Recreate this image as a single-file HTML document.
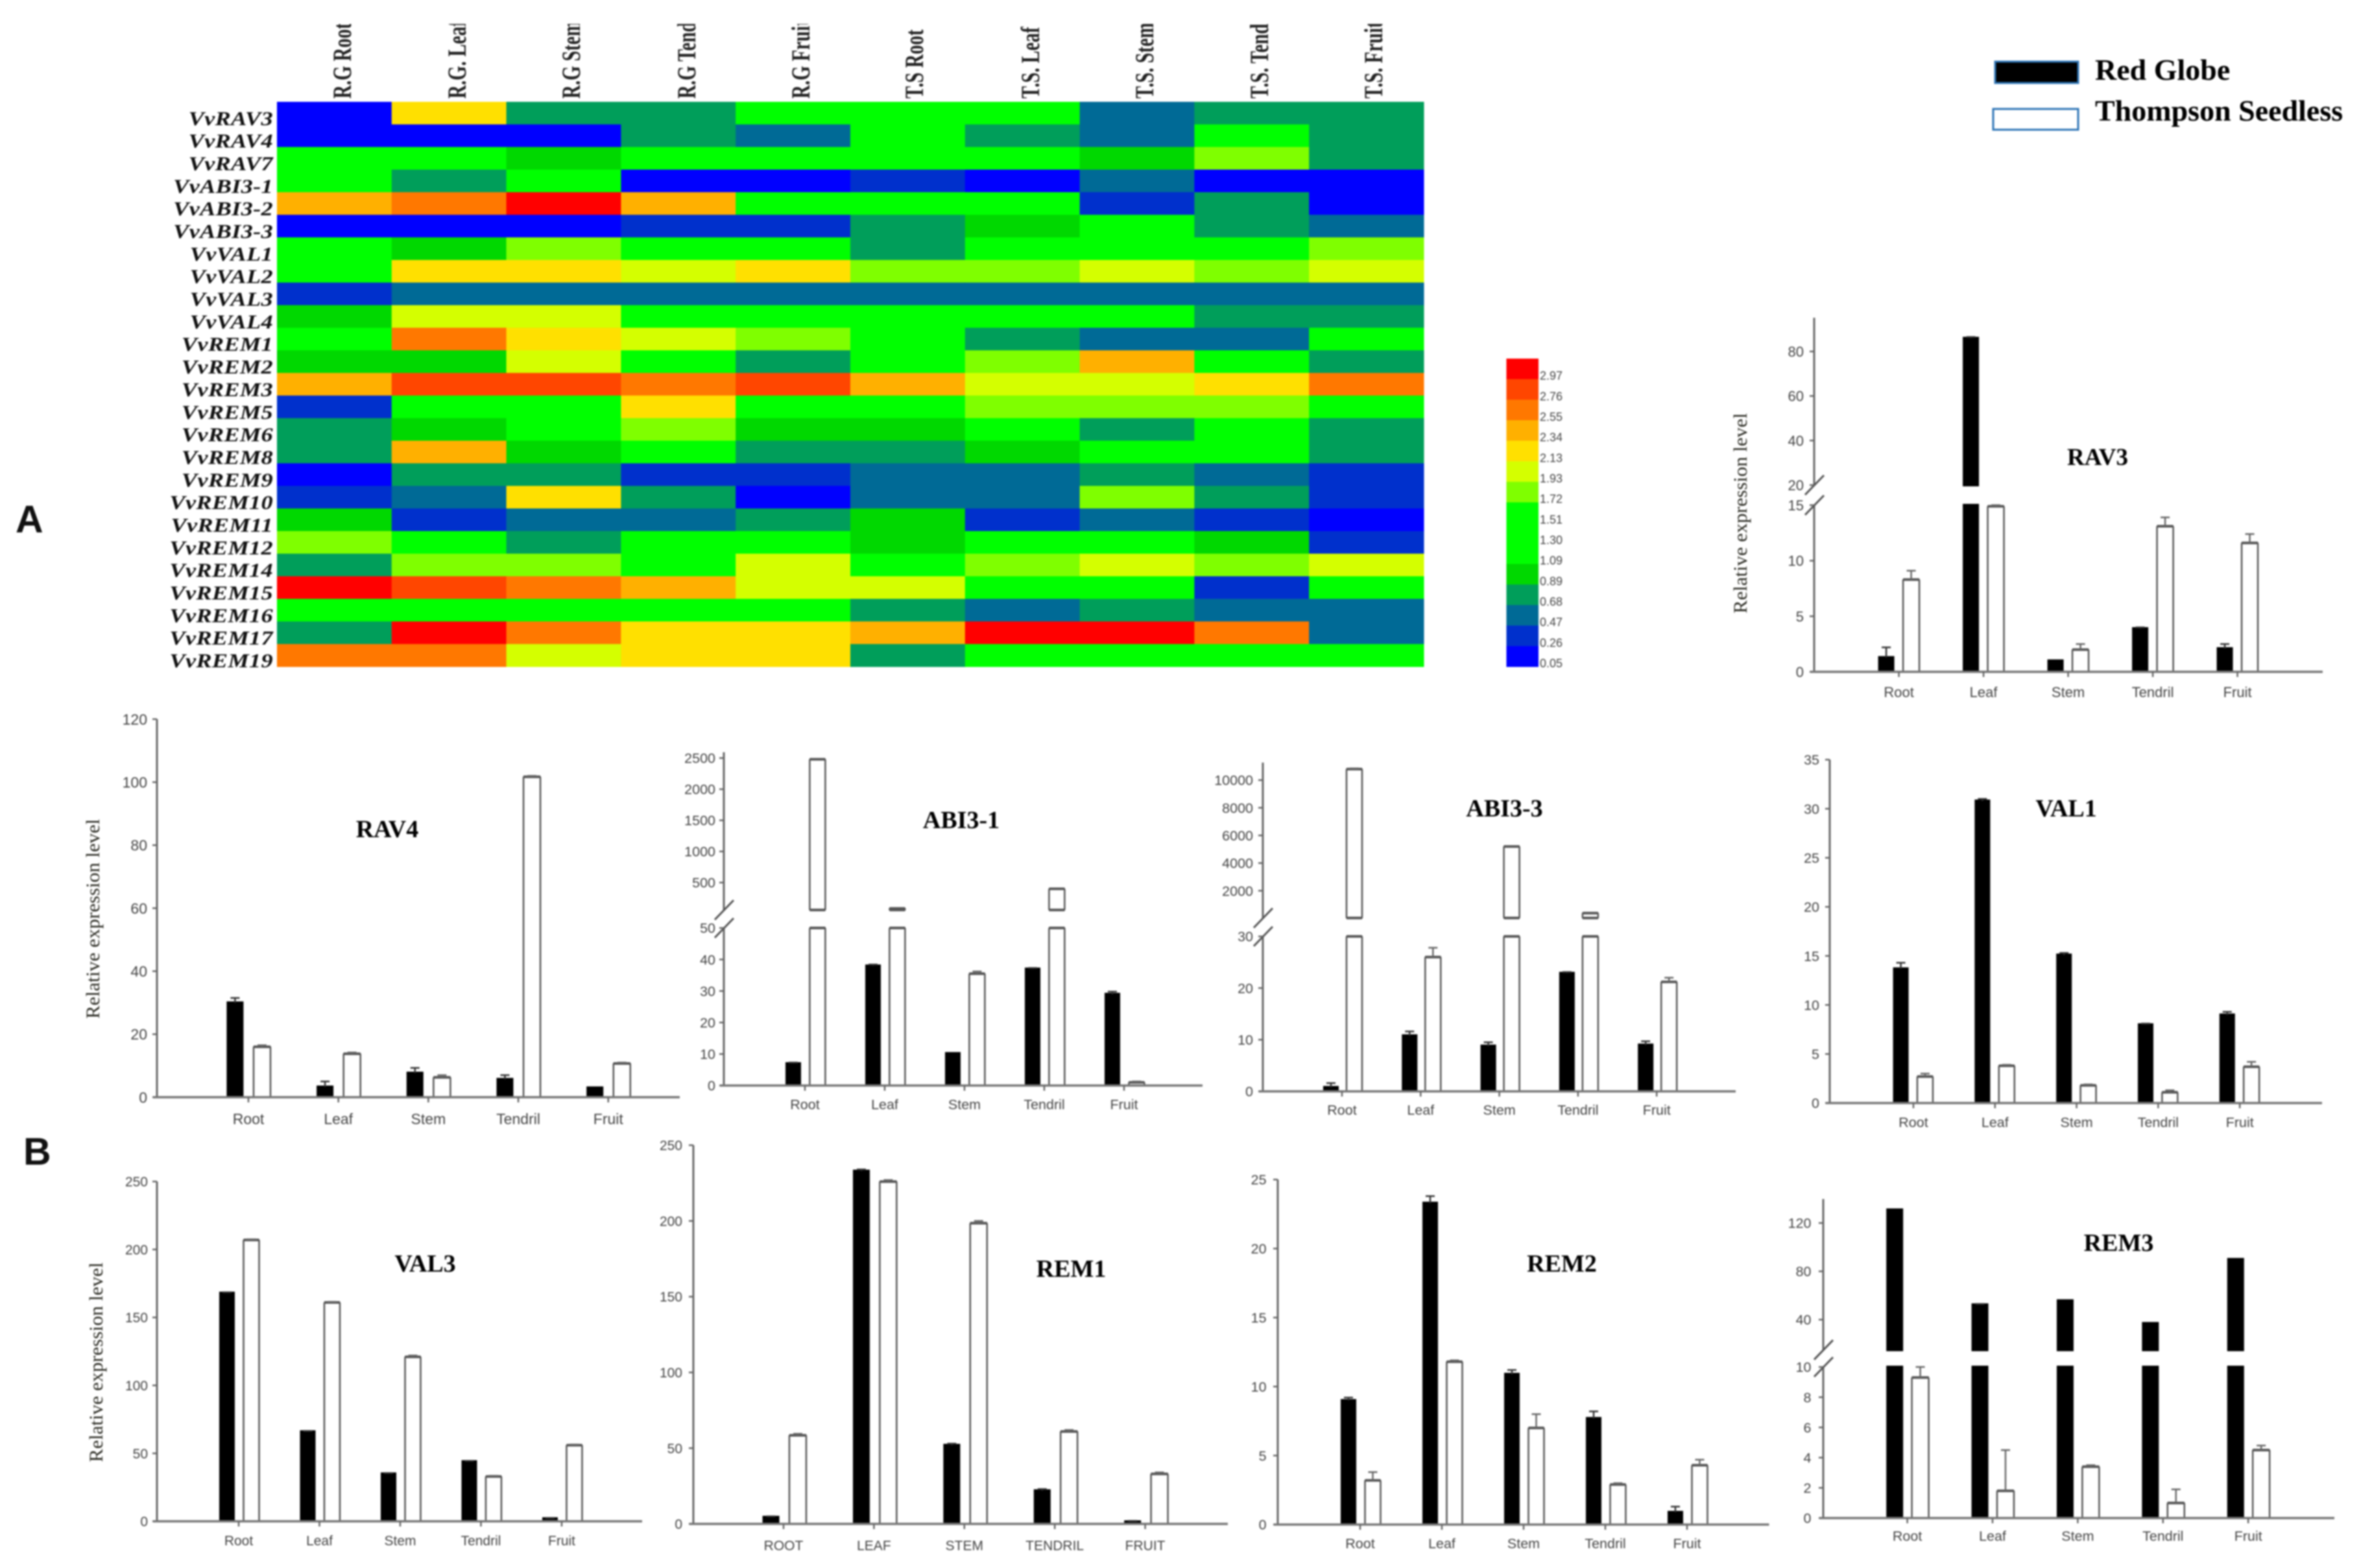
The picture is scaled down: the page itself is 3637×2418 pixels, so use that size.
<!DOCTYPE html>
<html lang="en">
<head>
<meta charset="utf-8">
<title>Expression heatmap and relative expression bar charts</title>
<style>
html,body{margin:0;padding:0;background:#fff;width:3637px;height:2418px;overflow:hidden}
svg{display:block;filter:blur(1.2px)}
.tick{font-family:"Liberation Sans",sans-serif;fill:#444}
.serif{font-family:"Liberation Serif",serif}
</style>
</head>
<body>
<svg id="figure" xmlns="http://www.w3.org/2000/svg" width="3637" height="2418" viewBox="0 0 3637 2418">
  <rect x="0" y="0" width="3637" height="2418" fill="#ffffff"/>
  <defs><clipPath id="colClip"><rect x="400" y="37" width="1800" height="120"/></clipPath></defs>
  <text x="24" y="821" font-family="Liberation Sans, sans-serif" font-weight="bold" font-size="59" fill="#111">A</text>
  <text x="36" y="1796" font-family="Liberation Sans, sans-serif" font-weight="bold" font-size="59" fill="#111">B</text>
  <g id="heatmap"></g>
  <g id="colorbar"></g>
  <g>
    <rect x="3076" y="95" width="128" height="33" fill="#000" stroke="#2e75b6" stroke-width="3"/>
    <text class="serif" x="3230" y="123" font-size="46" font-weight="bold" fill="#000">Red Globe</text>
    <rect x="3073" y="168" width="131" height="32" fill="#fff" stroke="#2e75b6" stroke-width="3"/>
    <text class="serif" x="3230" y="186" font-size="46" font-weight="bold" fill="#000">Thompson Seedless</text>
  </g>
  <g id="charts"></g>
</svg>
<script>
/* ---------- heatmap data ---------- */
const heatmapColumns = ['R.G Root','R.G. Leaf','R.G Stem','R.G Tendril','R.G Fruit','T.S Root','T.S. Leaf','T.S. Stem','T.S. Tendril','T.S. Fruit'];
const heatmapRows = ['VvRAV3','VvRAV4','VvRAV7','VvABI3-1','VvABI3-2','VvABI3-3','VvVAL1','VvVAL2','VvVAL3','VvVAL4','VvREM1','VvREM2','VvREM3','VvREM5','VvREM6','VvREM8','VvREM9','VvREM10','VvREM11','VvREM12','VvREM14','VvREM15','VvREM16','VvREM17','VvREM19'];
const heatmapValues = [
 [0.05,2.13,0.68,0.68,1.30,1.30,1.30,0.47,0.68,0.68],
 [0.05,0.05,0.05,0.68,0.47,1.30,0.68,0.47,1.30,0.68],
 [1.30,1.30,0.89,1.30,1.30,1.30,1.30,0.89,1.72,0.68],
 [1.30,0.68,1.30,0.05,0.05,0.26,0.05,0.47,0.05,0.05],
 [2.34,2.55,2.97,2.34,1.30,1.30,1.30,0.26,0.68,0.05],
 [0.05,0.05,0.05,0.26,0.26,0.68,0.89,1.30,0.68,0.47],
 [1.30,0.89,1.72,1.30,1.30,0.68,1.30,1.30,1.30,1.72],
 [1.30,2.13,2.13,1.93,2.13,1.72,1.72,1.93,1.72,1.93],
 [0.26,0.47,0.47,0.47,0.47,0.47,0.47,0.47,0.47,0.47],
 [0.89,1.93,1.93,1.30,1.30,1.30,1.30,1.30,0.68,0.68],
 [1.30,2.55,2.13,1.93,1.72,1.30,0.68,0.47,0.47,1.30],
 [0.89,0.89,1.93,1.30,0.68,1.30,1.72,2.34,1.30,0.68],
 [2.34,2.76,2.76,2.55,2.76,2.34,1.93,1.93,2.13,2.55],
 [0.26,1.30,1.30,2.13,1.30,1.30,1.72,1.72,1.72,1.30],
 [0.68,0.89,1.30,1.72,0.89,0.89,1.30,0.68,1.30,0.68],
 [0.68,2.34,0.89,1.30,0.68,0.68,0.89,1.30,1.30,0.68],
 [0.05,0.68,0.68,0.26,0.26,0.47,0.47,0.68,0.47,0.26],
 [0.26,0.47,2.13,0.68,0.05,0.47,0.47,1.72,0.68,0.26],
 [0.89,0.26,0.47,0.47,0.68,0.89,0.26,0.47,0.26,0.05],
 [1.72,1.30,0.68,1.30,1.30,0.89,1.30,1.30,0.89,0.26],
 [0.68,1.72,1.72,1.30,1.93,1.30,1.72,1.93,1.72,1.93],
 [2.97,2.76,2.55,2.34,1.93,1.93,1.30,1.30,0.26,1.30],
 [1.30,1.30,1.30,1.30,1.30,0.68,0.47,0.68,0.47,0.47],
 [0.68,2.97,2.55,2.13,2.13,2.34,2.97,2.97,2.55,0.47],
 [2.55,2.55,1.93,2.13,2.13,0.68,1.30,1.30,1.30,1.30]
];
const colorbarValues = [2.97,2.76,2.55,2.34,2.13,1.93,1.72,1.51,1.30,1.09,0.89,0.68,0.47,0.26,0.05];
const colorbarColors = ['#ff0000','#ff4600','#ff7800','#ffb000','#ffe000','#d4ff00','#7fff00','#00ff00','#00ff00','#00ff00','#00d800','#009e5a','#006a96','#0030cc','#0000ff'];

/* ---------- bar chart data ---------- */
const categories = ['Root','Leaf','Stem','Tendril','Fruit'];
const categoriesUpper = ['ROOT','LEAF','STEM','TENDRIL','FRUIT'];

const rav3RedGlobe = [1.3,86,1.0,3.9,2.1];
const rav3RedGlobeCap = [2.2,86.5,1.05,4.0,2.5];
const rav3Thompson = [8.3,14.9,2.0,13.1,11.6];
const rav3ThompsonCap = [9.1,15,2.5,13.9,12.4];
const rav3Ticks = [0,5,10,15];
const rav3UpperTicks = [20,40,60,80];

const rav4RedGlobe = [30,3.3,7.7,5.7,3];
const rav4RedGlobeCap = [31.5,5,9.3,7,3.2];
const rav4Thompson = [16,13.8,6.3,101.7,10.7];
const rav4ThompsonCap = [16.5,14.2,7,102,11];
const rav4Ticks = [0,20,40,60,80,100,120];

const abi31RedGlobe = [7,38,10.2,37,29];
const abi31RedGlobeCap = [7.3,38.4,10.3,37.3,29.8];
const abi31Thompson = [2480,85,35.5,400,1];
const abi31ThompsonCap = [2490,90,36.2,405,1.3];
const abi31Ticks = [0,10,20,30,40,50];
const abi31UpperTicks = [500,1000,1500,2000,2500];

const abi33RedGlobe = [0.8,10.8,8.8,22.9,9];
const abi33RedGlobeCap = [1.6,11.6,9.5,23.1,9.7];
const abi33Thompson = [10800,26,5200,380,21.2];
const abi33ThompsonCap = [10850,27.8,5240,400,22];
const abi33Ticks = [0,10,20,30];
const abi33UpperTicks = [2000,4000,6000,8000,10000];

const val1RedGlobe = [13.7,30.8,15.1,8,9];
const val1RedGlobeCap = [14.3,31,15.3,8.1,9.3];
const val1Thompson = [2.7,3.8,1.8,1.1,3.7];
const val1ThompsonCap = [3,3.9,1.9,1.3,4.2];
const val1Ticks = [0,5,10,15,20,25,30,35];

const val3RedGlobe = [168,66,35,44,2];
const val3RedGlobeCap = [168.5,66.5,35.5,44.5,2.5];
const val3Thompson = [207,161,121,33,56];
const val3ThompsonCap = [207.5,161.5,122,33.5,56.5];
const val3Ticks = [0,50,100,150,200,250];

const rem1RedGlobe = [4.5,233,52,22,1.5];
const rem1RedGlobeCap = [5,234,53,23,2];
const rem1Thompson = [58.5,226,198.5,61,33];
const rem1ThompsonCap = [59.5,227,200,62,34];
const rem1Ticks = [0,50,100,150,200,250];

const rem2RedGlobe = [9,23.3,10.9,7.7,0.9];
const rem2RedGlobeCap = [9.2,23.8,11.2,8.2,1.3];
const rem2Thompson = [3.2,11.8,7,2.9,4.3];
const rem2ThompsonCap = [3.8,11.9,8,3,4.7];
const rem2Ticks = [0,5,10,15,20,25];

const rem3RedGlobe = [131,52.4,55.8,37,90];
const rem3RedGlobeCap = [131.5,53,56.3,37.5,90.5];
const rem3Thompson = [9.3,1.8,3.4,1,4.5];
const rem3ThompsonCap = [10,4.5,3.5,1.9,4.8];
const rem3Ticks = [0,2,4,6,8,10];
const rem3UpperTicks = [40,80,120];

const SVGNS = 'http://www.w3.org/2000/svg';
function make(tag, attrs, parent, text) {
  const n = document.createElementNS(SVGNS, tag);
  for (const k in attrs) n.setAttribute(k, attrs[k]);
  if (text !== undefined) n.textContent = text;
  parent.appendChild(n);
  return n;
}
function slug(s) { return String(s).toLowerCase().replace(/[^a-z0-9]+/g, '-'); }

/* ---------- heatmap ---------- */
const heatFrame = { left: 427, right: 2195, top: 157, bottom: 1028 };
function heatX(i) { return heatFrame.left + i * (heatFrame.right - heatFrame.left) / heatmapColumns.length; }
function heatY(j) { return heatFrame.top + j * (heatFrame.bottom - heatFrame.top) / heatmapRows.length; }
function heatColor(v) {
  let best = 0;
  colorbarValues.forEach(function (c, i) {
    if (Math.abs(c - v) < Math.abs(colorbarValues[best] - v)) best = i;
  });
  return colorbarColors[best];
}
const heatG = document.getElementById('heatmap');
const columnLabelCenters = { 0: 528, 1: 705, 2: 881, 3: 1059, 4: 1235, 5: 1410, 6: 1589, 7: 1765, 8: 1942, 9: 2118 };
heatmapValues.forEach(function (row, j) {
  row.forEach(function (v, i) {
    const cell = make('rect', { x: heatX(i), y: heatY(j), width: heatX(i + 1) - heatX(i) + 0.5, height: heatY(j + 1) - heatY(j) + 0.5, fill: heatColor(v) }, heatG);
    
    
  });
});
heatmapRows.forEach(function (name, j) {
  const t = make('text', { transform: 'translate(421,' + (heatY(j + 1) + 1) + ') scale(1.17,1)', 'text-anchor': 'end', 'font-size': 31, 'font-weight': 'bold', 'font-style': 'italic', 'letter-spacing': '0.3', fill: '#111', class: 'serif' }, heatG, name);
  
  
});
const colClipGroup = make('g', { 'clip-path': 'url(#colClip)' }, heatG);


heatmapColumns.forEach(function (name, i) {
  const cx = columnLabelCenters[i] + 13;
  const t = make('text', { transform: 'translate(' + cx + ',152) rotate(-90) scale(0.72,1)', 'font-size': 40, 'font-weight': 'bold', fill: '#222', class: 'serif' }, colClipGroup, name);
  
  
});

/* ---------- colorbar ---------- */
const barG = document.getElementById('colorbar');
const barFrame = { left: 2322.5, width: 49.5, top: 553, bottom: 1028 };
function barY(i) { return barFrame.top + i * (barFrame.bottom - barFrame.top) / colorbarValues.length; }
colorbarValues.forEach(function (v, i) {
  const seg = make('rect', { x: barFrame.left, y: barY(i), width: barFrame.width, height: barY(i + 1) - barY(i) + 0.5, fill: colorbarColors[i] }, barG);
  
  
  const label = make('text', { x: 2374, y: barY(i + 1) + 1, 'font-size': 18, fill: '#333', class: 'tick' }, barG, v.toFixed(2));
  
  
});

/* ---------- bar charts ---------- */
const chartSpecs = [
 { id:'rav3', title:'RAV3', cats:categories, rg:rav3RedGlobe, rgCap:rav3RedGlobeCap, ts:rav3Thompson, tsCap:rav3ThompsonCap, ticks:rav3Ticks, upperTicks:rav3UpperTicks, upperMin:20,
   axisX:2797, axisLeft:2791, axisRight:3581, axisTop:490, baseY:1036, lowerTopY:779, upperBottomY:748, upperTopY:542,
   firstCat:2927.6, catStep:130.5, rgOffset:-19.5, tsOffset:19, barW:25, font:22, catLabelY:1067, numRight:2781,
   titleX:3234, titleY:717, yTitleX:2683, yTitleMid:791.5, yTitleLen:309, titleSize:37 },
 { id:'rav4', title:'RAV4', cats:categories, rg:rav4RedGlobe, rgCap:rav4RedGlobeCap, ts:rav4Thompson, tsCap:rav4ThompsonCap, ticks:rav4Ticks,
   axisX:242, axisLeft:236, axisRight:1048, baseY:1692, lowerTopY:1109,
   firstCat:383, catStep:138.7, rgOffset:-20.6, tsOffset:21, barW:26, font:23, catLabelY:1725, numRight:227,
   titleX:597, titleY:1291, yTitleX:143, yTitleMid:1417, yTitleLen:308, titleSize:38 },
 { id:'abi3-1', title:'ABI3-1', cats:categories, rg:abi31RedGlobe, rgCap:abi31RedGlobeCap, ts:abi31Thompson, tsCap:abi31ThompsonCap, ticks:abi31Ticks, upperTicks:abi31UpperTicks, upperMin:60,
   axisX:1116, axisLeft:1110, axisRight:1854, axisTop:1160, baseY:1674, lowerTopY:1431, upperBottomY:1361, upperTopY:1169,
   firstCat:1241, catStep:123, rgOffset:-18, tsOffset:19.4, barW:24, font:21.5, catLabelY:1703, numRight:1103,
   titleX:1482, titleY:1277, titleSize:38 },
 { id:'abi3-3', title:'ABI3-3', cats:categories, rg:abi33RedGlobe, rgCap:abi33RedGlobeCap, ts:abi33Thompson, tsCap:abi33ThompsonCap, ticks:abi33Ticks, upperTicks:abi33UpperTicks, upperMin:30,
   axisX:1947, axisLeft:1941, axisRight:2676, axisTop:1176, baseY:1683, lowerTopY:1444, upperBottomY:1373.6, upperTopY:1203,
   firstCat:2069, catStep:121.3, rgOffset:-17, tsOffset:19, barW:24, font:21.5, catLabelY:1711.5, numRight:1932,
   titleX:2319.5, titleY:1259, titleSize:38 },
 { id:'val1', title:'VAL1', cats:categories, rg:val1RedGlobe, rgCap:val1RedGlobeCap, ts:val1Thompson, tsCap:val1ThompsonCap, ticks:val1Ticks,
   axisX:2821, axisLeft:2815, axisRight:3580, baseY:1701, lowerTopY:1171.5,
   firstCat:2950, catStep:125.8, rgOffset:-19.4, tsOffset:18, barW:24, font:21.5, catLabelY:1730.5, numRight:2805,
   titleX:3185.6, titleY:1259, titleSize:38 },
 { id:'val3', title:'VAL3', cats:categories, rg:val3RedGlobe, rgCap:val3RedGlobeCap, ts:val3Thompson, tsCap:val3ThompsonCap, ticks:val3Ticks,
   axisX:242, axisLeft:236, axisRight:990, baseY:2346, lowerTopY:1822,
   firstCat:368, catStep:124.5, rgOffset:-18, tsOffset:19.5, barW:24, font:21, catLabelY:2375.6, numRight:228,
   titleX:655.5, titleY:1961, yTitleX:148, yTitleMid:2100.7, yTitleLen:308, titleSize:38 },
 { id:'rem1', title:'REM1', cats:categoriesUpper, rg:rem1RedGlobe, rgCap:rem1RedGlobeCap, ts:rem1Thompson, tsCap:rem1ThompsonCap, ticks:rem1Ticks,
   axisX:1069, axisLeft:1063, axisRight:1893, baseY:2350, lowerTopY:1766,
   firstCat:1208, catStep:139.4, rgOffset:-19.4, tsOffset:22, barW:26, font:21, catLabelY:2383, numRight:1052,
   titleX:1651.5, titleY:1969, titleSize:38 },
 { id:'rem2', title:'REM2', cats:categories, rg:rem2RedGlobe, rgCap:rem2RedGlobeCap, ts:rem2Thompson, tsCap:rem2ThompsonCap, ticks:rem2Ticks,
   axisX:1970, axisLeft:1964, axisRight:2727.5, baseY:2351, lowerTopY:1819,
   firstCat:2097, catStep:126, rgOffset:-18, tsOffset:19.5, barW:24, font:21.5, catLabelY:2380, numRight:1952.6,
   titleX:2408, titleY:1961, titleSize:38 },
 { id:'rem3', title:'REM3', cats:categories, rg:rem3RedGlobe, rgCap:rem3RedGlobeCap, ts:rem3Thompson, tsCap:rem3ThompsonCap, ticks:rem3Ticks, upperTicks:rem3UpperTicks, upperMin:15,
   axisX:2811, axisLeft:2805, axisRight:3599, axisTop:1849, baseY:2341, lowerTopY:2108, upperBottomY:2035, upperTopY:1886,
   firstCat:2940.6, catStep:131.4, rgOffset:-19.4, tsOffset:20, barW:26, font:21.5, catLabelY:2368.5, numRight:2792.5,
   titleX:3266.5, titleY:1929, titleSize:38 }
];

function linearScale(d0, d1, r0, r1) {
  return function (v) { return r0 + (v - d0) * (r1 - r0) / (d1 - d0); };
}

function drawChart(spec) {
  const root = document.getElementById('charts');
  const g = make('g', {}, root);
  
  

  const lowerMax = spec.ticks[spec.ticks.length - 1];
  const lowerY = linearScale(spec.ticks[0], lowerMax, spec.baseY, spec.lowerTopY);
  const broken = !!spec.upperTicks;
  const upperY = broken ? linearScale(spec.upperTicks[0], spec.upperTicks[spec.upperTicks.length - 1], spec.upperBottomY, spec.upperTopY) : null;
  const valueY = function (v) { return (broken && v > lowerMax) ? upperY(Math.max(v, spec.upperMin)) : lowerY(v); };
  const catX = function (i) { return spec.firstCat + i * spec.catStep; };
  const axisColor = '#666';

  /* y axis */
  const breakY = broken ? upperY(spec.upperMin) : null;
  const lowLine = make('line', { x1: spec.axisX, x2: spec.axisX, y1: spec.baseY, y2: spec.lowerTopY, stroke: axisColor, 'stroke-width': 3 }, g);
  
  
  if (broken) {
    const upLine = make('line', { x1: spec.axisX, x2: spec.axisX, y1: breakY, y2: spec.axisTop, stroke: axisColor, 'stroke-width': 3 }, g);
    
    
    [breakY, spec.lowerTopY].forEach(function (y, k) {
      const s = make('line', { x1: spec.axisX - 14, y1: y + 15, x2: spec.axisX + 15, y2: y - 15, stroke: '#555', 'stroke-width': 3 }, g);
      
      
    });
  }
  function yTick(v, y) {
    const tk = make('line', { x1: spec.axisX - 7, x2: spec.axisX, y1: y, y2: y, stroke: axisColor, 'stroke-width': 2.5 }, g);
    
    
    const lb = make('text', { x: spec.numRight, y: y + spec.font * 0.36, 'text-anchor': 'end', 'font-size': spec.font, class: 'tick' }, g, v);
    
    
  }
  spec.ticks.forEach(function (v) { yTick(v, lowerY(v)); });
  if (broken) spec.upperTicks.forEach(function (v) { yTick(v, upperY(v)); });

  /* bars */
  function drawBar(i, value, cap, offset, black, seriesName) {
    const cx = catX(i) + offset, w = spec.barW, x = cx - w / 2;
    const fill = black ? '#000' : '#fff';
    const stroke = black ? '#000' : '#555';
    const name = 'bar-' + spec.id + '-' + seriesName + '-' + slug(spec.cats[i]);
    const segs = [];
    if (broken && value > lowerMax) {
      segs.push([spec.lowerTopY, spec.baseY]);
      segs.push([valueY(value), breakY]);
    } else {
      segs.push([lowerY(Math.min(value, lowerMax)), spec.baseY]);
    }
    segs.forEach(function (sg, k) {
      const r = make('rect', { x: x, y: sg[0], width: w, height: Math.max(sg[1] - sg[0], 1), fill: fill, stroke: stroke, 'stroke-width': black ? 0 : 2.5, rx: black ? 2 : 1 }, g);
      
      
      const top = make('line', { x1: x, x2: x + w, y1: sg[0], y2: sg[0], stroke: black ? '#000' : '#555', 'stroke-width': 4 }, g);
      
      
      if (broken && segs.length > 1 && k === 1) {
        const bot = make('line', { x1: x, x2: x + w, y1: sg[1], y2: sg[1], stroke: black ? '#000' : '#555', 'stroke-width': 4 }, g);
        
        
      }
    });
    const y0 = valueY(value), y1 = valueY(cap);
    if (y0 - y1 > 1) {
      const e = make('line', { x1: cx, x2: cx, y1: y0, y2: y1, stroke: black ? '#333' : '#666', 'stroke-width': 2.5 }, g);
      
      
      const c = make('line', { x1: cx - 7, x2: cx + 7, y1: y1, y2: y1, stroke: black ? '#333' : '#666', 'stroke-width': 2.5 }, g);
      
      
    }
  }
  spec.cats.forEach(function (cat, i) {
    drawBar(i, spec.rg[i], spec.rgCap[i], spec.rgOffset, true, 'red-globe');
    drawBar(i, spec.ts[i], spec.tsCap[i], spec.tsOffset, false, 'thompson-seedless');
  });

  /* x axis */
  const xa = make('line', { x1: spec.axisLeft, x2: spec.axisRight, y1: spec.baseY, y2: spec.baseY, stroke: '#777', 'stroke-width': 3.5 }, g);
  
  
  spec.cats.forEach(function (cat, i) {
    const tk = make('line', { x1: catX(i), x2: catX(i), y1: spec.baseY, y2: spec.baseY + 8, stroke: axisColor, 'stroke-width': 2.5 }, g);
    
    
    const lb = make('text', { x: catX(i), y: spec.catLabelY + spec.font * 0.36, 'text-anchor': 'middle', 'font-size': spec.font, class: 'tick' }, g, cat);
    
    
  });

  /* titles */
  const ttl = make('text', { x: spec.titleX, y: spec.titleY, 'text-anchor': 'middle', 'font-size': spec.titleSize, 'font-weight': 'bold', fill: '#000', class: 'serif' }, g, spec.title);
  
  
  if (spec.yTitleX) {
    const yt = make('text', { transform: 'translate(' + (spec.yTitleX + 10) + ',' + spec.yTitleMid + ') rotate(-90)', 'text-anchor': 'middle', 'font-size': 30, textLength: spec.yTitleLen, lengthAdjust: 'spacingAndGlyphs', fill: '#2a2a22', class: 'serif' }, g, 'Relative expression level');
    
    
  }
}
chartSpecs.forEach(drawChart);
</script>
</body>
</html>
